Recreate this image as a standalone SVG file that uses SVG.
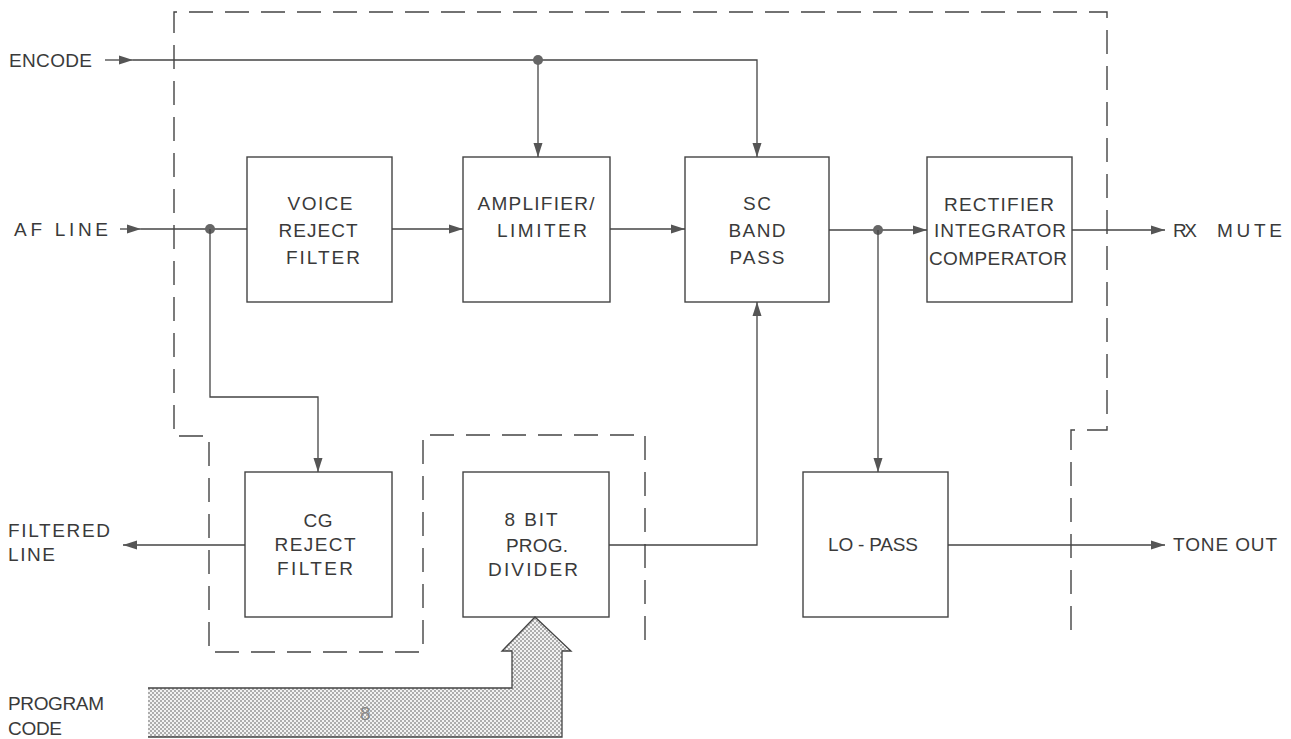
<svg xmlns="http://www.w3.org/2000/svg" width="1291" height="739" viewBox="0 0 1291 739">
<style>
.box{fill:none;stroke:#444;stroke-width:1.4}
.ln{fill:none;stroke:#444;stroke-width:1.3}
.dash{fill:none;stroke:#444;stroke-width:1.4;stroke-dasharray:24 12}
.t{font-family:"Liberation Sans",Arial,sans-serif;font-size:19px;fill:#3a3a3a}
.c{text-anchor:middle}
.dot{fill:#666}
</style>
<defs>
<marker id="ah" markerWidth="15" markerHeight="10" refX="14" refY="5" orient="auto" markerUnits="userSpaceOnUse">
<path d="M0,0.5 L14,5 L0,9.5 Z" fill="#555"/>
</marker>
<pattern id="stip" width="4" height="4" patternUnits="userSpaceOnUse">
<rect width="4" height="4" fill="#f2f2f2"/>
<circle cx="1" cy="1" r="0.8" fill="#555"/>
<circle cx="3" cy="3" r="0.8" fill="#555"/>
</pattern>
</defs>
<rect width="1291" height="739" fill="#fff"/>

<g id="boundaries">
<path class="dash" d="M1071,630 V430 H1107 V12 H174 V436 H209 V652 H423 V435 H645 V647"/>
</g>

<g id="connectors">
<path class="ln" d="M105,60 H133" marker-end="url(#ah)"/>
<path class="ln" d="M133,60 H757 V157" marker-end="url(#ah)"/>
<path class="ln" d="M538,60 V157" marker-end="url(#ah)"/>
<circle class="dot" cx="538" cy="60" r="5"/>
<path class="ln" d="M120,229 H141" marker-end="url(#ah)"/>
<path class="ln" d="M141,229 H247"/>
<circle class="dot" cx="210" cy="229" r="5"/>
<path class="ln" d="M210,229 V397 H318 V472" marker-end="url(#ah)"/>
<path class="ln" d="M392,229 H463" marker-end="url(#ah)"/>
<path class="ln" d="M610,229 H685" marker-end="url(#ah)"/>
<path class="ln" d="M829,230 H927" marker-end="url(#ah)"/>
<circle class="dot" cx="878" cy="230" r="5"/>
<path class="ln" d="M878,230 V472" marker-end="url(#ah)"/>
<path class="ln" d="M1072,230 H1165" marker-end="url(#ah)"/>
<path class="ln" d="M948,545 H1165" marker-end="url(#ah)"/>
<path class="ln" d="M245,545 H123" marker-end="url(#ah)"/>
<path class="ln" d="M609,545 H757 V302" marker-end="url(#ah)"/>
</g>

<g id="bus">
<path d="M148,688 H512 V651 H502 L535,617 L571,651 H562 V737 H148 Z" fill="url(#stip)"/>
<path class="ln" d="M148,688 H512 V651 H502 L535,617 L571,651 H562 V737 H148"/>
<text class="t" x="360" y="720" style="fill:#888">8</text>
</g>

<g id="labels">
<text class="t" x="9" y="67" textLength="83" lengthAdjust="spacing">ENCODE</text>
<text class="t" x="14" y="236" textLength="94" lengthAdjust="spacing">AF LINE</text>
<text class="t" x="8" y="537" textLength="102" lengthAdjust="spacing">FILTERED</text>
<text class="t" x="8" y="561" textLength="47" lengthAdjust="spacing">LINE</text>
<text class="t" x="8" y="710" textLength="96" lengthAdjust="spacing">PROGRAM</text>
<text class="t" x="8" y="735" textLength="54" lengthAdjust="spacing">CODE</text>
<text class="t" y="237"><tspan x="1173" textLength="24" lengthAdjust="spacing">RX</tspan><tspan x="1217" textLength="65" lengthAdjust="spacing">MUTE</tspan></text>
<text class="t" x="1173" y="551" textLength="104" lengthAdjust="spacing">TONE OUT</text>
</g>

<g id="voice">
<rect class="box" x="247" y="157" width="145" height="145"/>
<text class="t c" x="320" y="210" textLength="65" lengthAdjust="spacing">VOICE</text>
<text class="t c" x="318" y="237" textLength="79" lengthAdjust="spacing">REJECT</text>
<text class="t c" x="323" y="264" textLength="74" lengthAdjust="spacing">FILTER</text>
</g>

<g id="amp">
<rect class="box" x="463" y="157" width="147" height="145"/>
<text class="t c" x="536" y="210" textLength="117" lengthAdjust="spacing">AMPLIFIER/</text>
<text class="t c" x="542" y="237" textLength="90" lengthAdjust="spacing">LIMITER</text>
</g>

<g id="scbp">
<rect class="box" x="685" y="157" width="144" height="145"/>
<text class="t c" x="757" y="210" textLength="28" lengthAdjust="spacing">SC</text>
<text class="t c" x="757" y="237" textLength="57" lengthAdjust="spacing">BAND</text>
<text class="t c" x="757" y="264" textLength="55" lengthAdjust="spacing">PASS</text>
</g>

<g id="rect">
<rect class="box" x="927" y="157" width="145" height="145"/>
<text class="t c" x="999" y="211" textLength="110" lengthAdjust="spacing">RECTIFIER</text>
<text class="t c" x="1000" y="237" textLength="132" lengthAdjust="spacing">INTEGRATOR</text>
<text class="t c" x="998" y="265" textLength="138" lengthAdjust="spacing">COMPERATOR</text>
</g>

<g id="cg">
<rect class="box" x="245" y="472" width="147" height="145"/>
<text class="t c" x="318" y="527" textLength="29" lengthAdjust="spacing">CG</text>
<text class="t c" x="315" y="551" textLength="81" lengthAdjust="spacing">REJECT</text>
<text class="t c" x="315" y="575" textLength="76" lengthAdjust="spacing">FILTER</text>
</g>

<g id="divider">
<rect class="box" x="463" y="472" width="146" height="145"/>
<text class="t c" x="531" y="526" textLength="53" lengthAdjust="spacing">8 BIT</text>
<text class="t c" x="537" y="552" textLength="62" lengthAdjust="spacing">PROG.</text>
<text class="t c" x="533" y="576" textLength="90" lengthAdjust="spacing">DIVIDER</text>
</g>

<g id="lopass">
<rect class="box" x="803" y="472" width="145" height="145"/>
<text class="t c" x="873" y="551" textLength="90" lengthAdjust="spacing">LO - PASS</text>
</g>
</svg>
